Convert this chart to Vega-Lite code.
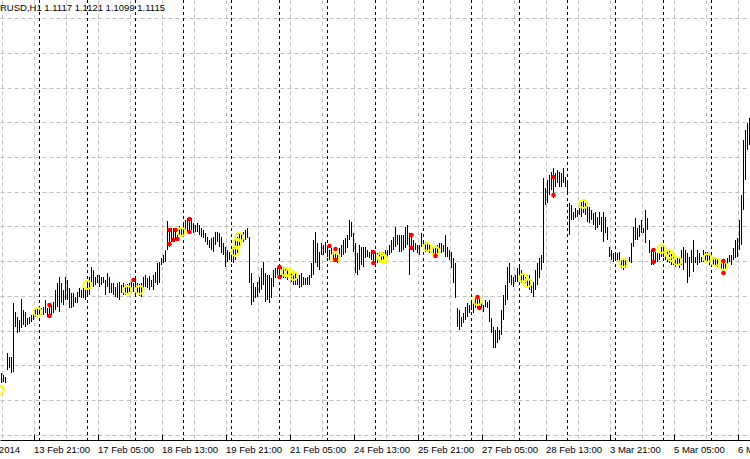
{
"$schema": "https://vega.github.io/schema/vega-lite/v6.json",
"width": 750, "height": 440,
"autosize": {"type": "none"},
"padding": {"left": 0, "top": 0, "right": 0, "bottom": 19},
"background": "white",
"config": {"view": {"stroke": null}, "font": "Liberation Sans"},
"title": {"text": "RUSD,H1  1.1117 1.1121 1.1099 1.1115", "anchor": "start", "frame": "group", "orient": "top", "offset": -21, "baseline": "alphabetic", "fontSize": 9.5, "fontWeight": "normal", "font": "Liberation Sans", "color": "black"},
"datasets": {
"bars": [
{"i":0,"h":1.3467,"l":1.3457},{"i":1,"h":1.3465,"l":1.3458},{"i":2,"h":1.3463,"l":1.3457},{"i":3,"h":1.3487,"l":1.3470},{"i":4,"h":1.3483,"l":1.3472},{"i":5,"h":1.3483,"l":1.3467},{"i":6,"h":1.3537,"l":1.3468},{"i":7,"h":1.3528,"l":1.3513},{"i":8,"h":1.3523,"l":1.3507},{"i":9,"h":1.3520,"l":1.3508},
{"i":10,"h":1.3541,"l":1.3512},{"i":11,"h":1.3530,"l":1.3515},{"i":12,"h":1.3528,"l":1.3513},{"i":13,"h":1.3522,"l":1.3515},{"i":14,"h":1.3523,"l":1.3516},{"i":15,"h":1.3525,"l":1.3518},{"i":16,"h":1.3527,"l":1.3520},{"i":17,"h":1.3532,"l":1.3523},{"i":18,"h":1.3532,"l":1.3525},{"i":19,"h":1.3533,"l":1.3527},
{"i":20,"h":1.3532,"l":1.3525},{"i":21,"h":1.3533,"l":1.3525},{"i":22,"h":1.3540,"l":1.3527},{"i":23,"h":1.3532,"l":1.3523},{"i":24,"h":1.3537,"l":1.3523},{"i":25,"h":1.3535,"l":1.3525},{"i":26,"h":1.3538,"l":1.3527},{"i":27,"h":1.3550,"l":1.3530},{"i":28,"h":1.3557,"l":1.3533},{"i":29,"h":1.3563,"l":1.3528},
{"i":30,"h":1.3557,"l":1.3537},{"i":31,"h":1.3550,"l":1.3535},{"i":32,"h":1.3563,"l":1.3540},{"i":33,"h":1.3560,"l":1.3540},{"i":34,"h":1.3552,"l":1.3532},{"i":35,"h":1.3547,"l":1.3532},{"i":36,"h":1.3547,"l":1.3533},{"i":37,"h":1.3543,"l":1.3537},{"i":38,"h":1.3548,"l":1.3537},{"i":39,"h":1.3552,"l":1.3543},
{"i":40,"h":1.3550,"l":1.3542},{"i":41,"h":1.3552,"l":1.3542},{"i":42,"h":1.3550,"l":1.3540},{"i":43,"h":1.3558,"l":1.3543},{"i":44,"h":1.3563,"l":1.3545},{"i":45,"h":1.3573,"l":1.3557},{"i":46,"h":1.3570,"l":1.3553},{"i":47,"h":1.3563,"l":1.3555},{"i":48,"h":1.3565,"l":1.3557},{"i":49,"h":1.3565,"l":1.3553},
{"i":50,"h":1.3563,"l":1.3555},{"i":51,"h":1.3563,"l":1.3557},{"i":52,"h":1.3560,"l":1.3545},{"i":53,"h":1.3567,"l":1.3553},{"i":54,"h":1.3563,"l":1.3547},{"i":55,"h":1.3557,"l":1.3547},{"i":56,"h":1.3557,"l":1.3545},{"i":57,"h":1.3553,"l":1.3543},{"i":58,"h":1.3557,"l":1.3542},{"i":59,"h":1.3558,"l":1.3540},
{"i":60,"h":1.3555,"l":1.3547},{"i":61,"h":1.3557,"l":1.3545},{"i":62,"h":1.3555,"l":1.3545},{"i":63,"h":1.3556,"l":1.3546},{"i":64,"h":1.3557,"l":1.3548},{"i":65,"h":1.3558,"l":1.3547},{"i":66,"h":1.3557,"l":1.3548},{"i":67,"h":1.3562,"l":1.3545},{"i":68,"h":1.3557,"l":1.3547},{"i":69,"h":1.3556,"l":1.3544},
{"i":70,"h":1.3557,"l":1.3543},{"i":71,"h":1.3563,"l":1.3550},{"i":72,"h":1.3565,"l":1.3553},{"i":73,"h":1.3562,"l":1.3552},{"i":74,"h":1.3564,"l":1.3550},{"i":75,"h":1.3560,"l":1.3553},{"i":76,"h":1.3565,"l":1.3550},{"i":77,"h":1.3568,"l":1.3557},{"i":78,"h":1.3577,"l":1.3555},{"i":79,"h":1.3578,"l":1.3557},
{"i":80,"h":1.3582,"l":1.3575},{"i":81,"h":1.3585,"l":1.3577},{"i":82,"h":1.3590,"l":1.3578},{"i":83,"h":1.3619,"l":1.3590},{"i":84,"h":1.3612,"l":1.3593},{"i":85,"h":1.3612,"l":1.3598},{"i":86,"h":1.3612,"l":1.3600},{"i":87,"h":1.3612,"l":1.3600},{"i":88,"h":1.3610,"l":1.3602},{"i":89,"h":1.3614,"l":1.3605},
{"i":90,"h":1.3613,"l":1.3603},{"i":91,"h":1.3616,"l":1.3605},{"i":92,"h":1.3620,"l":1.3607},{"i":93,"h":1.3622,"l":1.3608},{"i":94,"h":1.3620,"l":1.3607},{"i":95,"h":1.3622,"l":1.3610},{"i":96,"h":1.3617,"l":1.3607},{"i":97,"h":1.3615,"l":1.3608},{"i":98,"h":1.3617,"l":1.3608},{"i":99,"h":1.3615,"l":1.3605},
{"i":100,"h":1.3612,"l":1.3603},{"i":101,"h":1.3610,"l":1.3602},{"i":102,"h":1.3607,"l":1.3598},{"i":103,"h":1.3603,"l":1.3595},{"i":104,"h":1.3600,"l":1.3592},{"i":105,"h":1.3602,"l":1.3590},{"i":106,"h":1.3603,"l":1.3588},{"i":107,"h":1.3608,"l":1.3595},{"i":108,"h":1.3608,"l":1.3598},{"i":109,"h":1.3607,"l":1.3593},
{"i":110,"h":1.3603,"l":1.3587},{"i":111,"h":1.3597,"l":1.3585},{"i":112,"h":1.3593,"l":1.3573},{"i":113,"h":1.3590,"l":1.3578},{"i":114,"h":1.3588,"l":1.3580},{"i":115,"h":1.3587,"l":1.3578},{"i":116,"h":1.3593,"l":1.3577},{"i":117,"h":1.3600,"l":1.3580},{"i":118,"h":1.3603,"l":1.3587},{"i":119,"h":1.3608,"l":1.3593},
{"i":120,"h":1.3607,"l":1.3597},{"i":121,"h":1.3608,"l":1.3598},{"i":122,"h":1.3610,"l":1.3600},{"i":123,"h":1.3612,"l":1.3602},{"i":124,"h":1.3603,"l":1.3557},{"i":125,"h":1.3567,"l":1.3535},{"i":126,"h":1.3557,"l":1.3538},{"i":127,"h":1.3553,"l":1.3542},{"i":128,"h":1.3558,"l":1.3543},{"i":129,"h":1.3563,"l":1.3547},
{"i":130,"h":1.3572,"l":1.3550},{"i":131,"h":1.3578,"l":1.3555},{"i":132,"h":1.3567,"l":1.3538},{"i":133,"h":1.3565,"l":1.3540},{"i":134,"h":1.3565,"l":1.3537},{"i":135,"h":1.3562,"l":1.3542},{"i":136,"h":1.3570,"l":1.3553},{"i":137,"h":1.3572,"l":1.3562},{"i":138,"h":1.3573,"l":1.3565},{"i":139,"h":1.3575,"l":1.3562},
{"i":140,"h":1.3573,"l":1.3563},{"i":141,"h":1.3573,"l":1.3562},{"i":142,"h":1.3572,"l":1.3562},{"i":143,"h":1.3570,"l":1.3560},{"i":144,"h":1.3570,"l":1.3562},{"i":145,"h":1.3568,"l":1.3558},{"i":146,"h":1.3567,"l":1.3555},{"i":147,"h":1.3567,"l":1.3555},{"i":148,"h":1.3563,"l":1.3555},{"i":149,"h":1.3565,"l":1.3552},
{"i":150,"h":1.3567,"l":1.3553},{"i":151,"h":1.3563,"l":1.3555},{"i":152,"h":1.3562,"l":1.3555},{"i":153,"h":1.3563,"l":1.3555},{"i":154,"h":1.3565,"l":1.3555},{"i":155,"h":1.3577,"l":1.3562},{"i":156,"h":1.3600,"l":1.3565},{"i":157,"h":1.3608,"l":1.3577},{"i":158,"h":1.3597,"l":1.3573},{"i":159,"h":1.3588,"l":1.3570},
{"i":160,"h":1.3597,"l":1.3585},{"i":161,"h":1.3595,"l":1.3585},{"i":162,"h":1.3598,"l":1.3587},{"i":163,"h":1.3593,"l":1.3583},{"i":164,"h":1.3590,"l":1.3580},{"i":165,"h":1.3592,"l":1.3583},{"i":166,"h":1.3588,"l":1.3578},{"i":167,"h":1.3587,"l":1.3578},{"i":168,"h":1.3585,"l":1.3577},{"i":169,"h":1.3592,"l":1.3582},
{"i":170,"h":1.3595,"l":1.3583},{"i":171,"h":1.3600,"l":1.3585},{"i":172,"h":1.3602,"l":1.3587},{"i":173,"h":1.3605,"l":1.3592},{"i":174,"h":1.3620,"l":1.3600},{"i":175,"h":1.3618,"l":1.3603},{"i":176,"h":1.3607,"l":1.3588},{"i":177,"h":1.3597,"l":1.3567},{"i":178,"h":1.3587,"l":1.3565},{"i":179,"h":1.3595,"l":1.3570},
{"i":180,"h":1.3593,"l":1.3575},{"i":181,"h":1.3593,"l":1.3573},{"i":182,"h":1.3593,"l":1.3582},{"i":183,"h":1.3590,"l":1.3583},{"i":184,"h":1.3588,"l":1.3582},{"i":185,"h":1.3590,"l":1.3580},{"i":186,"h":1.3588,"l":1.3578},{"i":187,"h":1.3587,"l":1.3577},{"i":188,"h":1.3587,"l":1.3577},{"i":189,"h":1.3588,"l":1.3578},
{"i":190,"h":1.3587,"l":1.3580},{"i":191,"h":1.3588,"l":1.3580},{"i":192,"h":1.3590,"l":1.3582},{"i":193,"h":1.3590,"l":1.3582},{"i":194,"h":1.3595,"l":1.3585},{"i":195,"h":1.3600,"l":1.3587},{"i":196,"h":1.3603,"l":1.3590},{"i":197,"h":1.3613,"l":1.3593},{"i":198,"h":1.3605,"l":1.3595},{"i":199,"h":1.3605,"l":1.3588},
{"i":200,"h":1.3605,"l":1.3588},{"i":201,"h":1.3605,"l":1.3590},{"i":202,"h":1.3613,"l":1.3592},{"i":203,"h":1.3615,"l":1.3595},{"i":204,"h":1.3607,"l":1.3565},{"i":205,"h":1.3607,"l":1.3590},{"i":206,"h":1.3600,"l":1.3588},{"i":207,"h":1.3597,"l":1.3590},{"i":208,"h":1.3595,"l":1.3587},{"i":209,"h":1.3595,"l":1.3585},
{"i":210,"h":1.3607,"l":1.3593},{"i":211,"h":1.3600,"l":1.3592},{"i":212,"h":1.3598,"l":1.3588},{"i":213,"h":1.3597,"l":1.3588},{"i":214,"h":1.3595,"l":1.3587},{"i":215,"h":1.3595,"l":1.3587},{"i":216,"h":1.3593,"l":1.3585},{"i":217,"h":1.3593,"l":1.3585},{"i":218,"h":1.3595,"l":1.3587},{"i":219,"h":1.3597,"l":1.3590},
{"i":220,"h":1.3597,"l":1.3587},{"i":221,"h":1.3595,"l":1.3588},{"i":222,"h":1.3605,"l":1.3583},{"i":223,"h":1.3593,"l":1.3583},{"i":224,"h":1.3590,"l":1.3580},{"i":225,"h":1.3588,"l":1.3572},{"i":226,"h":1.3582,"l":1.3557},{"i":227,"h":1.3577,"l":1.3542},{"i":228,"h":1.3532,"l":1.3513},{"i":229,"h":1.3530,"l":1.3510},
{"i":230,"h":1.3523,"l":1.3513},{"i":231,"h":1.3527,"l":1.3517},{"i":232,"h":1.3533,"l":1.3520},{"i":233,"h":1.3537,"l":1.3523},{"i":234,"h":1.3535,"l":1.3527},{"i":235,"h":1.3538,"l":1.3530},{"i":236,"h":1.3540,"l":1.3527},{"i":237,"h":1.3542,"l":1.3532},{"i":238,"h":1.3543,"l":1.3532},{"i":239,"h":1.3542,"l":1.3533},
{"i":240,"h":1.3540,"l":1.3532},{"i":241,"h":1.3535,"l":1.3528},{"i":242,"h":1.3540,"l":1.3533},{"i":243,"h":1.3538,"l":1.3532},{"i":244,"h":1.3540,"l":1.3518},{"i":245,"h":1.3522,"l":1.3507},{"i":246,"h":1.3513,"l":1.3492},{"i":247,"h":1.3510,"l":1.3492},{"i":248,"h":1.3513,"l":1.3497},{"i":249,"h":1.3510,"l":1.3500},
{"i":250,"h":1.3530,"l":1.3505},{"i":251,"h":1.3545,"l":1.3520},{"i":252,"h":1.3555,"l":1.3535},{"i":253,"h":1.3573,"l":1.3540},{"i":254,"h":1.3577,"l":1.3557},{"i":255,"h":1.3565,"l":1.3555},{"i":256,"h":1.3563,"l":1.3553},{"i":257,"h":1.3565,"l":1.3558},{"i":258,"h":1.3572,"l":1.3558},{"i":259,"h":1.3575,"l":1.3560},
{"i":260,"h":1.3570,"l":1.3557},{"i":261,"h":1.3567,"l":1.3558},{"i":262,"h":1.3563,"l":1.3557},{"i":263,"h":1.3565,"l":1.3553},{"i":264,"h":1.3565,"l":1.3550},{"i":265,"h":1.3560,"l":1.3547},{"i":266,"h":1.3558,"l":1.3543},{"i":267,"h":1.3570,"l":1.3550},{"i":268,"h":1.3577,"l":1.3555},{"i":269,"h":1.3582,"l":1.3562},
{"i":270,"h":1.3585,"l":1.3570},{"i":271,"h":1.3662,"l":1.3577},{"i":272,"h":1.3652,"l":1.3635},{"i":273,"h":1.3660,"l":1.3637},{"i":274,"h":1.3665,"l":1.3645},{"i":275,"h":1.3668,"l":1.3650},{"i":276,"h":1.3672,"l":1.3642},{"i":277,"h":1.3667,"l":1.3653},{"i":278,"h":1.3670,"l":1.3657},{"i":279,"h":1.3668,"l":1.3653},
{"i":280,"h":1.3667,"l":1.3653},{"i":281,"h":1.3672,"l":1.3657},{"i":282,"h":1.3663,"l":1.3653},{"i":283,"h":1.3658,"l":1.3645},{"i":284,"h":1.3637,"l":1.3605},{"i":285,"h":1.3635,"l":1.3620},{"i":286,"h":1.3628,"l":1.3620},{"i":287,"h":1.3632,"l":1.3622},{"i":288,"h":1.3630,"l":1.3623},{"i":289,"h":1.3632,"l":1.3625},
{"i":290,"h":1.3638,"l":1.3623},{"i":291,"h":1.3640,"l":1.3627},{"i":292,"h":1.3637,"l":1.3625},{"i":293,"h":1.3635,"l":1.3618},{"i":294,"h":1.3633,"l":1.3617},{"i":295,"h":1.3630,"l":1.3620},{"i":296,"h":1.3627,"l":1.3615},{"i":297,"h":1.3628,"l":1.3610},{"i":298,"h":1.3623,"l":1.3612},{"i":299,"h":1.3628,"l":1.3615},
{"i":300,"h":1.3623,"l":1.3608},{"i":301,"h":1.3628,"l":1.3598},{"i":302,"h":1.3623,"l":1.3607},{"i":303,"h":1.3613,"l":1.3600},{"i":304,"h":1.3593,"l":1.3583},{"i":305,"h":1.3590,"l":1.3580},{"i":306,"h":1.3587,"l":1.3578},{"i":307,"h":1.3585,"l":1.3580},{"i":308,"h":1.3587,"l":1.3580},{"i":309,"h":1.3588,"l":1.3577},
{"i":310,"h":1.3580,"l":1.3572},{"i":311,"h":1.3580,"l":1.3570},{"i":312,"h":1.3580,"l":1.3572},{"i":313,"h":1.3580,"l":1.3575},{"i":314,"h":1.3583,"l":1.3578},{"i":315,"h":1.3597,"l":1.3577},{"i":316,"h":1.3613,"l":1.3593},{"i":317,"h":1.3622,"l":1.3600},{"i":318,"h":1.3612,"l":1.3600},{"i":319,"h":1.3615,"l":1.3603},
{"i":320,"h":1.3620,"l":1.3607},{"i":321,"h":1.3612,"l":1.3607},{"i":322,"h":1.3630,"l":1.3597},{"i":323,"h":1.3622,"l":1.3610},{"i":324,"h":1.3600,"l":1.3587},{"i":325,"h":1.3590,"l":1.3575},{"i":326,"h":1.3590,"l":1.3575},{"i":327,"h":1.3588,"l":1.3577},{"i":328,"h":1.3587,"l":1.3578},{"i":329,"h":1.3588,"l":1.3580},
{"i":330,"h":1.3593,"l":1.3583},{"i":331,"h":1.3593,"l":1.3583},{"i":332,"h":1.3590,"l":1.3580},{"i":333,"h":1.3588,"l":1.3578},{"i":334,"h":1.3590,"l":1.3577},{"i":335,"h":1.3587,"l":1.3575},{"i":336,"h":1.3583,"l":1.3575},{"i":337,"h":1.3582,"l":1.3573},{"i":338,"h":1.3583,"l":1.3575},{"i":339,"h":1.3583,"l":1.3572},
{"i":340,"h":1.3590,"l":1.3575},{"i":341,"h":1.3593,"l":1.3570},{"i":342,"h":1.3590,"l":1.3577},{"i":343,"h":1.3587,"l":1.3557},{"i":344,"h":1.3583,"l":1.3563},{"i":345,"h":1.3590,"l":1.3577},{"i":346,"h":1.3600,"l":1.3568},{"i":347,"h":1.3583,"l":1.3577},{"i":348,"h":1.3590,"l":1.3575},{"i":349,"h":1.3587,"l":1.3577},
{"i":350,"h":1.3583,"l":1.3578},{"i":351,"h":1.3590,"l":1.3578},{"i":352,"h":1.3588,"l":1.3580},{"i":353,"h":1.3588,"l":1.3578},{"i":354,"h":1.3587,"l":1.3575},{"i":355,"h":1.3585,"l":1.3577},{"i":356,"h":1.3583,"l":1.3575},{"i":357,"h":1.3582,"l":1.3575},{"i":358,"h":1.3582,"l":1.3573},{"i":359,"h":1.3580,"l":1.3572},
{"i":360,"h":1.3580,"l":1.3570},{"i":361,"h":1.3578,"l":1.3568},{"i":362,"h":1.3577,"l":1.3570},{"i":363,"h":1.3582,"l":1.3575},{"i":364,"h":1.3585,"l":1.3578},{"i":365,"h":1.3585,"l":1.3575},{"i":366,"h":1.3592,"l":1.3580},{"i":367,"h":1.3600,"l":1.3582},{"i":368,"h":1.3602,"l":1.3583},{"i":369,"h":1.3620,"l":1.3590},
{"i":370,"h":1.3645,"l":1.3595},{"i":371,"h":1.3700,"l":1.3630},{"i":372,"h":1.3710,"l":1.3660},{"i":373,"h":1.3717,"l":1.3690},{"i":374,"h":1.3722,"l":1.3695}
],
"days": [
{"i":19,"day":"14 Feb"},{"i":43,"day":"17 Feb"},{"i":67,"day":"18 Feb"},{"i":91,"day":"19 Feb"},{"i":115,"day":"20 Feb"},{"i":139,"day":"21 Feb"},{"i":163,"day":"24 Feb"},{"i":187,"day":"25 Feb"},{"i":211,"day":"26 Feb"},{"i":235,"day":"27 Feb"},{"i":259,"day":"28 Feb"},{"i":283,"day":"3 Mar"},{"i":307,"day":"4 Mar"},{"i":331,"day":"5 Mar"},{"i":355,"day":"6 Mar"}
],
"circles": [
{"i":-0.75,"p":1.3450},{"i":18,"p":1.3528},{"i":43,"p":1.3555},{"i":63,"p":1.3550},{"i":69,"p":1.3550},{"i":90,"p":1.3608},{"i":117,"p":1.3588},{"i":118,"p":1.3597},{"i":119,"p":1.3603},{"i":142,"p":1.3568},{"i":144,"p":1.3567},{"i":146,"p":1.3564},{"i":167,"p":1.3583},{"i":190,"p":1.3583},{"i":191,"p":1.3581},{"i":213,"p":1.3593},{"i":217,"p":1.3589},{"i":238,"p":1.3539},{"i":261,"p":1.3562},{"i":263,"p":1.3557},{"i":291,"p":1.3636},{"i":311,"p":1.3577},{"i":330,"p":1.3591},{"i":334,"p":1.3586},{"i":335,"p":1.3583},{"i":338,"p":1.3579},{"i":353,"p":1.3582},{"i":357,"p":1.3578},{"i":361,"p":1.3574}
],
"dots": [
{"i":24,"p":1.3535},{"i":24,"p":1.3524},{"i":66,"p":1.3560},{"i":84,"p":1.3610},{"i":87,"p":1.3610},{"i":84,"p":1.3596},{"i":86,"p":1.3600},{"i":88,"p":1.3601},{"i":94,"p":1.3621},{"i":94,"p":1.3608},{"i":139,"p":1.3573},{"i":139,"p":1.3563},{"i":164,"p":1.3594},{"i":167,"p":1.3591},{"i":167,"p":1.3580},{"i":186,"p":1.3588},{"i":186,"p":1.3577},{"i":205,"p":1.3605},{"i":205,"p":1.3592},{"i":217,"p":1.3584},{"i":238,"p":1.3543},{"i":239,"p":1.3532},{"i":276,"p":1.3663},{"i":276,"p":1.3645},{"i":326,"p":1.3590},{"i":326,"p":1.3578},{"i":361,"p":1.3579},{"i":361,"p":1.3567}
]
},
"resolve": {"axis": {"x": "independent"}},
"layer": [
{
"data": {"name": "bars"},
"mark": {"type": "rule", "color": "black", "strokeWidth": 1},
"encoding": {
"x": {"field": "i", "type": "quantitative", "scale": {"domain": [-0.75, 374.25], "nice": false, "zero": false},
 "axis": {"orient": "bottom", "tickCount": 100, "values": [0,16,32,48,64,80,96,112,128,144,160,176,192,208,224,240,256,272,288,304,320,336,352,368], "grid": true, "gridColor": "#c0c0c0", "gridDash": [4,3], "gridWidth": 1, "labels": false, "ticks": false, "domain": false, "title": null}},
"y": {"field": "l", "type": "quantitative", "scale": {"domain": [1.3400, 1.3840], "nice": false, "zero": false},
 "axis": {"tickCount": 100, "values": [1.38217,1.3787,1.37523,1.37176,1.36829,1.36482,1.36135,1.35788,1.35441,1.35094,1.34747,1.344,1.34053], "grid": true, "gridColor": "#c0c0c0", "gridDash": [4,3], "gridWidth": 1, "labels": false, "ticks": false, "domain": false, "title": null}},
"y2": {"field": "h"}
}
},
{
"data": {"name": "days"},
"mark": {"type": "rule", "color": "black", "strokeWidth": 1, "strokeDash": [3,3]},
"encoding": {
"x": {"field": "i", "type": "quantitative",
 "axis": {"orient": "bottom", "tickCount": 100, "values": [9,16,48,80,112,144,176,208,240,272,304,336,368], "grid": false, "domain": true, "domainColor": "black", "domainWidth": 1, "ticks": true,
 "tickColor": {"condition": {"test": "datum.value == 9", "value": "transparent"}, "value": "black"},
 "tickSize": -6,
 "labelAlign": {"condition": {"test": "datum.value == 9", "value": "right"}, "value": "left"},
 "labelPadding": 10, "labelFontSize": 9.5, "labelFont": "Liberation Sans", "labelColor": "black", "labelOverlap": false, "labelBound": false, "labelFlush": false, "title": null,
 "labelExpr": "datum.value == 9 ? '12 Feb 2014' : ['13 Feb 21:00','17 Feb 05:00','18 Feb 13:00','19 Feb 21:00','21 Feb 05:00','24 Feb 13:00','25 Feb 21:00','27 Feb 05:00','28 Feb 13:00','3 Mar 21:00','5 Mar 05:00','6 Mar 13:00'][(datum.value-16)/32]"}}
}
},
{
"data": {"name": "circles"},
"mark": {"type": "point", "shape": "circle", "filled": false, "stroke": "#ffff00", "strokeWidth": 2, "size": 64, "opacity": 1},
"encoding": {
"x": {"field": "i", "type": "quantitative", "axis": null},
"y": {"field": "p", "type": "quantitative"}
}
},
{
"data": {"name": "dots"},
"mark": {"type": "circle", "color": "#ff0000", "size": 22, "opacity": 1},
"encoding": {
"x": {"field": "i", "type": "quantitative", "axis": null},
"y": {"field": "p", "type": "quantitative"}
}
}
]
}
